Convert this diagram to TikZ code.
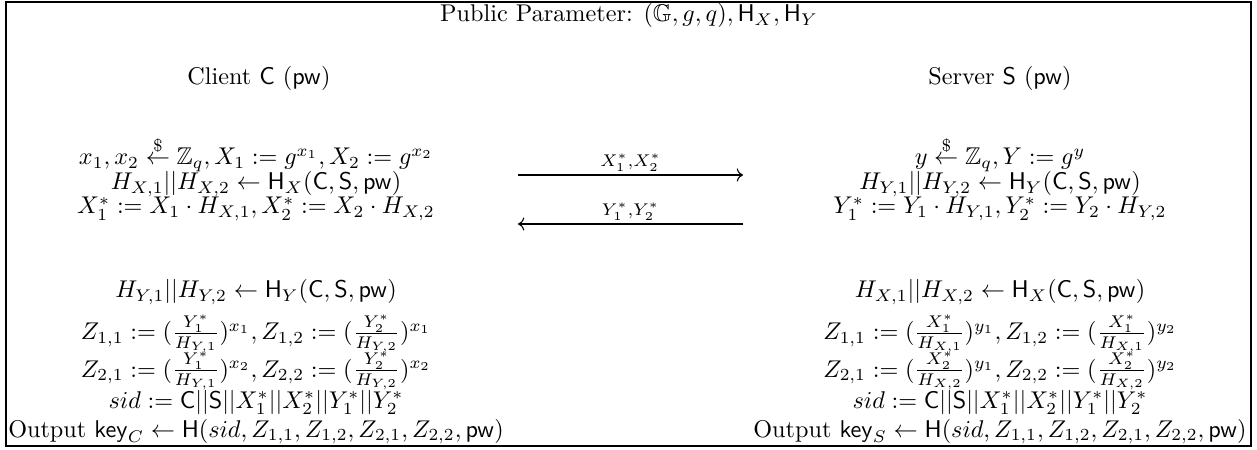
\documentclass[tikz,border=0pt]{standalone}
\usepackage{amsmath,amssymb}
\usetikzlibrary{arrows.meta}
\newcommand{\sC}{\mathsf{C}}
\newcommand{\sS}{\mathsf{S}}
\newcommand{\spw}{\mathsf{pw}}
\begin{document}
\begin{tikzpicture}[x=0.413pt,y=-0.413pt,
  txt/.style={anchor=base,inner sep=0pt},
  msg/.style={line width=0.45pt,->},
  lbl/.style={above,inner sep=1.2pt,font=\scriptsize}]
\useasboundingbox (0,0) rectangle (1257,450);
\draw[line width=0.5pt] (6,2) rectangle (1251,446);
\node[txt] (title) at (629,22) {Public Parameter: $(\mathbb{G},g,q),\mathsf{H}_X,\mathsf{H}_Y$};
\node[txt] (client) at (259,85) {Client $\sC$ ($\spw$)};
\node[txt] (server) at (1000,85) {Server $\sS$ ($\spw$)};
% client
\node[txt] (c1) at (256,165) {$x_1,x_2\stackrel{\$}{\leftarrow}\mathbb{Z}_q,X_1:=g^{x_1},X_2:=g^{x_2}$};
\node[txt] (c2) at (256,190) {$H_{X,1}||H_{X,2}\leftarrow\mathsf{H}_X(\sC,\sS,\spw)$};
\node[txt] (c3) at (256,214) {$X_1^*:=X_1\cdot H_{X,1},X_2^*:=X_2\cdot H_{X,2}$};
\node[txt] (c4) at (256,298) {$H_{Y,1}||H_{Y,2}\leftarrow\mathsf{H}_Y(\sC,\sS,\spw)$};
\node[txt] (c5) at (256,340) {$Z_{1,1}:=(\frac{Y_1^*}{H_{Y,1}})^{x_1},Z_{1,2}:=(\frac{Y_2^*}{H_{Y,2}})^{x_1}$};
\node[txt] (c6) at (256,377) {$Z_{2,1}:=(\frac{Y_1^*}{H_{Y,1}})^{x_2},Z_{2,2}:=(\frac{Y_2^*}{H_{Y,2}})^{x_2}$};
\node[txt] (c7) at (256,408) {$sid:=\sC||\sS||X_1^*||X_2^*||Y_1^*||Y_2^*$};
\node[txt] (c8) at (256,437) {Output $\mathsf{key}_C\leftarrow\mathsf{H}(sid,Z_{1,1},Z_{1,2},Z_{2,1},Z_{2,2},\spw)$};
% server
\node[txt] (s1) at (1000,165) {$y\stackrel{\$}{\leftarrow}\mathbb{Z}_q,Y:=g^y$};
\node[txt] (s2) at (1000,190) {$H_{Y,1}||H_{Y,2}\leftarrow\mathsf{H}_Y(\sC,\sS,\spw)$};
\node[txt] (s3) at (1000,214) {$Y_1^*:=Y_1\cdot H_{Y,1},Y_2^*:=Y_2\cdot H_{Y,2}$};
\node[txt] (s4) at (1000,298) {$H_{X,1}||H_{X,2}\leftarrow\mathsf{H}_X(\sC,\sS,\spw)$};
\node[txt] (s5) at (1000,340) {$Z_{1,1}:=(\frac{X_1^*}{H_{X,1}})^{y_1},Z_{1,2}:=(\frac{X_1^*}{H_{X,1}})^{y_2}$};
\node[txt] (s6) at (1000,377) {$Z_{2,1}:=(\frac{X_2^*}{H_{X,2}})^{y_1},Z_{2,2}:=(\frac{X_2^*}{H_{X,2}})^{y_2}$};
\node[txt] (s7) at (1000,408) {$sid:=\sC||\sS||X_1^*||X_2^*||Y_1^*||Y_2^*$};
\node[txt] (s8) at (1000,437) {Output $\mathsf{key}_S\leftarrow\mathsf{H}(sid,Z_{1,1},Z_{1,2},Z_{2,1},Z_{2,2},\spw)$};
% messages
\coordinate (m1a) at (518,175);
\coordinate (m1b) at (743,175);
\coordinate (m2a) at (743,224);
\coordinate (m2b) at (518,224);
\draw[msg] (m1a) -- node[lbl] (l1) {$X_1^*{,}X_2^*$} (m1b);
\draw[msg] (m2a) -- node[lbl] (l2) {$Y_1^*{,}Y_2^*$} (m2b);
\end{tikzpicture}
\end{document}
